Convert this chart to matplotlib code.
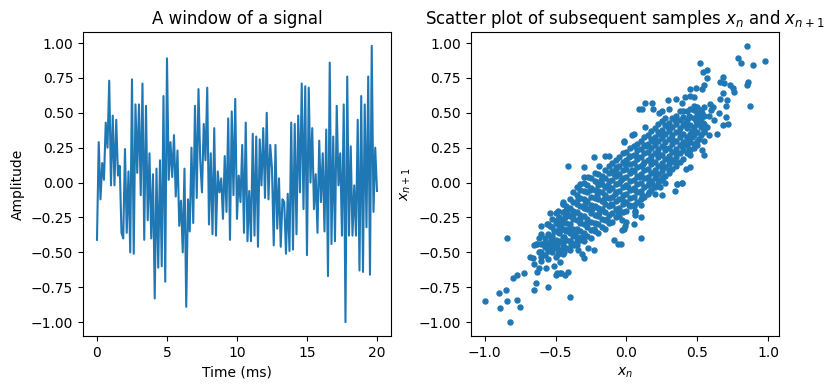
import numpy as np
import matplotlib.pyplot as plt

# =========================
# DATA
# =========================
# amplitude samples of the 20 ms window (evenly sampled)
amplitude = [
    -0.41, 0.29, -0.12, 0.14, 0.02, 0.43, 0.25, 0.73, -0.02, 0.48,
    -0.02, 0.45, 0.05, 0.12, -0.36, -0.40, 0.24, -0.36, 0.08, -0.50,
    0.74, -0.51, 0.56, 0.07, 0.56, -0.09, 0.71, -0.41, 0.55, -0.27,
    0.21, -0.40, 0.06, -0.83, 0.10, -0.61, 0.16, -0.60, 0.62, -0.71,
    0.89, 0.02, 0.29, 0.04, 0.34, -0.10, 0.23, -0.31, -0.13, -0.50,
    0.10, -0.89, -0.12, -0.35, 0.25, -0.29, 0.55, -0.11, 0.67, 0.16,
    -0.07, 0.42, 0.16, 0.68, -0.30, 0.21, -0.37, 0.39, -0.38, 0.08,
    -0.07, 0.03, -0.26, 0.19, -0.21, 0.46, -0.41, 0.51, -0.09, 0.60,
    -0.26, 0.05, -0.14, 0.27, -0.36, 0.43, -0.42, -0.06, -0.42, 0.35,
    -0.38, 0.33, -0.46, 0.31, -0.02, 0.39, -0.11, 0.50, -0.12, 0.27,
    0.10, -0.45, 0.27, -0.33, 0.03, -0.46, -0.12,
    -0.14, -0.51, -0.08, -0.49, 0.43, -0.48, 0.42, -0.37, 0.48, -0.07,
    0.71, -0.19, 0.69, -0.52, 0.68, 0.00, 0.39, -0.19, 0.06, -0.36,
    0.30, -0.14, 0.21, -0.35, 0.38, -0.67, 0.86, -0.44, 0.33, -0.42,
    0.55, -0.02, 0.21, -0.38, 0.56, -1.00, 0.76, -0.38, 0.26, -0.38,
    -0.02, -0.38, 0.45, -0.63, 0.62, -0.64, 0.56, -0.32, 0.76, -0.66,
    0.98, -0.21, 0.25, -0.06,
]
window_ms = 20

# scattered (x_n, x_n+1) pairs away from the dense core
edge_x = [
    0.09, -0.41, -0.30, -0.23, -0.15, -0.12, -0.19, -0.02, 0.04, -0.30, -0.27, -0.33,
    0.85, 0.98, 0.79, 0.81, 0.89, 0.52, 0.57, 0.54, 0.57, 0.68, 0.85, 0.86, 0.87,
    0.76, 0.75, 0.73, 0.69, 0.66, 0.68, 0.71, 0.66, 0.70, 0.72, 0.68, 0.70, 0.65,
    0.64, 0.58, 0.55, 0.55, 0.45, 0.42, 0.39, 0.36, 0.45, 0.49, 0.45, 0.53, 0.55,
    0.35, 0.41, 0.48, 0.29, 0.30, 0.13, 0.18, 0.11, 0.19, 0.23, 0.25, 0.39, 0.40,
    0.48, 0.50, 0.59, 0.61, 0.13, 0.05, -0.02, 0.55, 0.52, 0.48, 0.46, 0.50, 0.53,
    0.44, 0.34, 0.31, 0.26, 0.26, 0.23,
    -1.00, -0.89, -0.90, -0.85, -0.84, -0.82, -0.77, -0.75, -0.80, -0.77, -0.72,
    -0.84, -0.68, -0.66, -0.65, -0.64, -0.63, -0.65, -0.62, -0.63, -0.64, -0.65,
    -0.60, -0.61, -0.57, -0.55, -0.51, -0.50, -0.49, -0.47, -0.46, -0.43, -0.41,
    -0.47, -0.40, -0.60, -0.56, -0.54, -0.54, -0.53, -0.52, -0.53, -0.49, -0.48,
    -0.49, -0.48, -0.46, -0.44, -0.45, -0.45, -0.42, -0.43, -0.46, -0.44, -0.40,
    -0.37, -0.34, -0.31, -0.30, -0.27, -0.23, -0.09, -0.06, -0.01, 0.06, 0.05, -0.03,
    0.10, 0.10, -0.03, -0.02, -0.04, 0.06, 0.06, 0.10, 0.25, 0.20, 0.16, 0.34,
    0.36, 0.39, 0.24, 0.27, 0.05, 0.00,
]
edge_y = [
    0.53, 0.12, 0.11, 0.18, 0.19, 0.19, 0.12, 0.30, 0.34, 0.04, 0.04, -0.01,
    0.98, 0.87, 0.89, 0.86, 0.84, 0.86, 0.81, 0.79, 0.75, 0.76, 0.70, 0.72, 0.55,
    0.65, 0.68, 0.70, 0.71, 0.72, 0.64, 0.59, 0.60, 0.55, 0.42, 0.41, 0.47, 0.50,
    0.35, 0.34, 0.30, 0.20, 0.11, 0.10, 0.00, -0.01, 0.67, 0.68, 0.62, 0.67, 0.70,
    0.60, 0.61, 0.61, 0.59, 0.53, 0.57, 0.57, 0.53, 0.53, 0.50, 0.51, 0.57, 0.51,
    0.55, 0.50, 0.56, 0.54, 0.40, 0.35, 0.29, 0.37, 0.44, 0.37, 0.33, 0.27, 0.23,
    0.24, 0.15, 0.15, 0.11, 0.04, 0.02,
    -0.85, -0.90, -0.79, -0.77, -0.85, -1.00, -0.84, -0.89, -0.68, -0.66, -0.65,
    -0.40, -0.53, -0.54, -0.45, -0.44, -0.44, -0.58, -0.61, -0.64, -0.72, -0.77,
    -0.53, -0.50, -0.61, -0.75, -0.60, -0.66, -0.65, -0.65, -0.65, -0.66, -0.64,
    -0.57, -0.82, -0.31, -0.30, -0.31, -0.22, -0.39, -0.43, -0.47, -0.27, -0.29,
    -0.46, -0.51, -0.48, -0.50, -0.14, -0.15, -0.21, -0.25, -0.34, -0.39, -0.42,
    -0.45, -0.48, -0.51, -0.54, -0.47, -0.48, -0.41, -0.44, -0.31, -0.20, -0.17, -0.27,
    -0.40, -0.25, -0.34, -0.33, -0.44, -0.21, -0.23, -0.16, -0.09, -0.08, -0.07, -0.06,
    -0.01, 0.00, -0.03, 0.00, -0.30, -0.28,
]

# dense core of the cloud, column by column
core_cols_x = [
    -0.60, -0.575, -0.55, -0.525, -0.50, -0.475, -0.45, -0.425, -0.40, -0.375,
    -0.35, -0.325, -0.30, -0.275, -0.25, -0.225, -0.20, -0.175, -0.15, -0.125,
    -0.10, -0.075, -0.05, -0.025, 0.00, 0.025, 0.05, 0.075, 0.10, 0.125,
    0.15, 0.175, 0.20, 0.225, 0.25, 0.275, 0.30, 0.325, 0.35, 0.375,
    0.40, 0.425, 0.45, 0.475, 0.50, 0.525, 0.55,
]
core_cols_y = [
    [-0.56, -0.50, -0.44, -0.37],
    [-0.52, -0.46, -0.40],
    [-0.55, -0.49, -0.43, -0.37, -0.30],
    [-0.50, -0.44, -0.38, -0.32, -0.26],
    [-0.53, -0.47, -0.41, -0.35, -0.29, -0.22],
    [-0.49, -0.42, -0.36, -0.31, -0.25],
    [-0.51, -0.45, -0.39, -0.33, -0.27, -0.21, -0.15],
    [-0.47, -0.41, -0.35, -0.29, -0.24, -0.17],
    [-0.48, -0.42, -0.36, -0.30, -0.24, -0.18, -0.12],
    [-0.44, -0.38, -0.33, -0.26, -0.20, -0.14, -0.07],
    [-0.45, -0.39, -0.33, -0.27, -0.21, -0.15, -0.09, -0.03],
    [-0.41, -0.35, -0.29, -0.23, -0.17, -0.11, -0.05],
    [-0.42, -0.36, -0.30, -0.24, -0.18, -0.12, -0.06, 0.00],
    [-0.38, -0.32, -0.26, -0.19, -0.13, -0.07, -0.02],
    [-0.40, -0.34, -0.28, -0.22, -0.16, -0.10, -0.04, 0.03],
    [-0.35, -0.29, -0.23, -0.17, -0.11, -0.05, 0.01, 0.07],
    [-0.36, -0.30, -0.24, -0.18, -0.12, -0.06, 0.00, 0.06],
    [-0.32, -0.26, -0.19, -0.13, -0.07, -0.01, 0.05],
    [-0.33, -0.27, -0.21, -0.15, -0.09, -0.03, 0.03, 0.09],
    [-0.29, -0.23, -0.17, -0.11, -0.05, 0.01, 0.07, 0.12],
    [-0.28, -0.22, -0.16, -0.10, -0.04, 0.02, 0.08, 0.14],
    [-0.25, -0.19, -0.13, -0.07, -0.01, 0.05, 0.11, 0.16],
    [-0.24, -0.18, -0.12, -0.06, 0.00, 0.06, 0.12, 0.18],
    [-0.21, -0.15, -0.09, -0.03, 0.03, 0.09, 0.15, 0.21],
    [-0.20, -0.14, -0.08, -0.02, 0.04, 0.10, 0.16, 0.22],
    [-0.17, -0.11, -0.05, 0.01, 0.07, 0.13, 0.19, 0.25],
    [-0.16, -0.10, -0.04, 0.02, 0.08, 0.14, 0.20, 0.26],
    [-0.14, -0.07, -0.01, 0.05, 0.11, 0.17, 0.23, 0.28],
    [-0.12, -0.06, 0.00, 0.06, 0.12, 0.18, 0.24, 0.30],
    [-0.10, -0.03, 0.03, 0.09, 0.15, 0.21, 0.27, 0.33],
    [-0.08, -0.02, 0.04, 0.10, 0.16, 0.22, 0.28, 0.34],
    [-0.05, 0.01, 0.07, 0.13, 0.19, 0.25, 0.31, 0.37],
    [-0.03, 0.03, 0.09, 0.15, 0.21, 0.27, 0.33, 0.39],
    [0.00, 0.06, 0.12, 0.18, 0.24, 0.30, 0.36, 0.42],
    [0.02, 0.08, 0.14, 0.20, 0.26, 0.32, 0.38, 0.44],
    [0.05, 0.11, 0.17, 0.23, 0.29, 0.35, 0.41, 0.46],
    [0.07, 0.13, 0.19, 0.25, 0.31, 0.37, 0.43],
    [0.10, 0.16, 0.22, 0.28, 0.34, 0.40, 0.46],
    [0.12, 0.18, 0.24, 0.30, 0.36, 0.42, 0.48],
    [0.15, 0.21, 0.27, 0.33, 0.39, 0.45, 0.51],
    [0.17, 0.23, 0.29, 0.35, 0.41, 0.47],
    [0.21, 0.27, 0.33, 0.39, 0.45, 0.51],
    [0.23, 0.29, 0.35, 0.41, 0.47, 0.53],
    [0.28, 0.34, 0.40, 0.46, 0.52],
    [0.30, 0.36, 0.42, 0.48, 0.54],
    [0.34, 0.40, 0.46, 0.52],
    [0.36, 0.42, 0.48, 0.54],
]

# extra points that fill gaps inside the core
fill_x = [
    -0.56, -0.53, -0.51, -0.49, -0.46, -0.44, -0.43, -0.41, -0.39, -0.38,
    -0.36, -0.34, -0.33, -0.31, -0.29, -0.28, -0.26, -0.24, -0.23, -0.21,
    -0.19, -0.18, -0.16, -0.14, -0.13, -0.11, -0.09, -0.08, -0.06, -0.04,
    -0.03, -0.01, 0.01, 0.02, 0.04, 0.06, 0.07, 0.09, 0.11, 0.12,
    0.14, 0.16, 0.17, 0.19, 0.21, 0.22, 0.24, 0.26, 0.27, 0.29,
    0.31, 0.32, 0.34, 0.36, 0.37, 0.39, 0.41, 0.43, 0.44, 0.46,
    0.48, 0.49, 0.51, 0.53, 0.54, 0.57, 0.58, 0.60, -0.58, -0.62,
    -0.62, 0.62, 0.02, -0.07, -0.20, 0.30, 0.18, -0.35, 0.45, -0.48,
]
fill_y = [
    -0.47, -0.41, -0.35, -0.44, -0.30, -0.42, -0.20, -0.33, -0.45, -0.23,
    -0.36, -0.12, -0.26, -0.39, -0.15, -0.29, -0.05, -0.19, -0.33, -0.09,
    -0.22, 0.02, -0.12, -0.26, -0.02, -0.15, 0.06, -0.08, -0.21, 0.02,
    -0.12, 0.13, -0.03, -0.16, 0.09, -0.05, 0.20, 0.04, -0.09, 0.13,
    0.26, 0.01, 0.16, 0.30, 0.06, 0.21, 0.35, 0.11, 0.25, 0.40,
    0.16, 0.31, 0.45, 0.21, 0.36, 0.26, 0.43, 0.31, 0.48, 0.37,
    0.25, 0.44, 0.31, 0.50, 0.43, 0.40, 0.48, 0.52, -0.43, -0.50,
    -0.40, 0.45, 0.18, 0.10, -0.02, 0.09, -0.01, -0.42, 0.20, -0.20,
]

# =========================
# BUILD SERIES
# =========================
t_ms = np.linspace(0, window_ms, len(amplitude))

core_x = [cx for cx, ys in zip(core_cols_x, core_cols_y) for _ in ys]
core_y = [y for ys in core_cols_y for y in ys]
xn = np.array(edge_x + core_x + fill_x)
xn1 = np.array(edge_y + core_y + fill_y)

# =========================
# PLOT
# =========================
fig = plt.figure(figsize=(8.34, 3.9), dpi=100)
ax1 = fig.add_axes([0.0995, 0.1385, 0.3693, 0.7795])
ax2 = fig.add_axes([0.5644, 0.1385, 0.3700, 0.7795])

ax1.plot(t_ms, amplitude)
ax1.set_xlabel("Time (ms)")
ax1.set_ylabel("Amplitude")
ax1.set_title("A window of a signal")

ax2.scatter(xn, xn1, s=13)
ax2.set_xlabel("$x_n$")
ax2.set_ylabel("$x_{n+1}$")
ax2.set_title("Scatter plot of subsequent samples $x_n$ and $x_{n+1}$")

fig.savefig("out.png", dpi=100)
plt.close(fig)
